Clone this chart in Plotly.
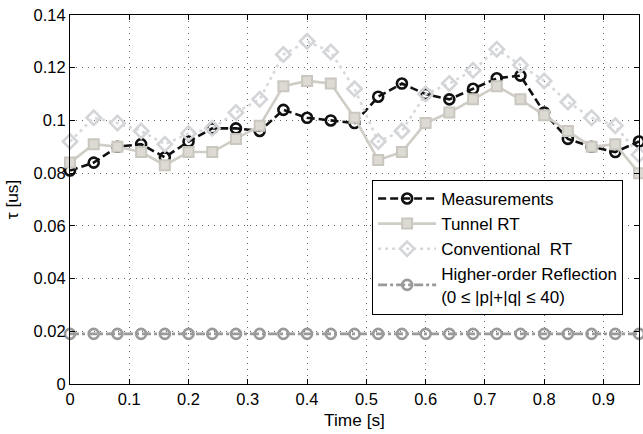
import plotly.graph_objects as go

time_s = [round(0.04 * i, 2) for i in range(25)]
measurements = [0.081, 0.084, 0.090, 0.091, 0.086, 0.092, 0.097, 0.097, 0.096, 0.104,
                0.101, 0.100, 0.099, 0.109, 0.114, 0.110, 0.108, 0.112, 0.116, 0.117,
                0.103, 0.093, 0.090, 0.088, 0.092]
tunnel_rt = [0.084, 0.091, 0.090, 0.088, 0.083, 0.088, 0.088, 0.093, 0.098, 0.113,
             0.115, 0.114, 0.101, 0.085, 0.088, 0.099, 0.103, 0.108, 0.113, 0.108,
             0.102, 0.096, 0.090, 0.091, 0.080]
conventional_rt = [0.092, 0.101, 0.099, 0.096, 0.091, 0.095, 0.097, 0.103, 0.108, 0.125,
                   0.130, 0.126, 0.112, 0.092, 0.096, 0.110, 0.114, 0.119, 0.127, 0.121,
                   0.115, 0.107, 0.101, 0.098, 0.087]
higher_order = [0.019] * 25

y_ticks = [0, 0.02, 0.04, 0.06, 0.08, 0.1, 0.12, 0.14]
y_tick_labels = ["0", "0.02", "0.04", "0.06", "0.08", "0.1", "0.12", "0.14"]
x_ticks = [0, 0.1, 0.2, 0.3, 0.4, 0.5, 0.6, 0.7, 0.8, 0.9]
x_tick_labels = ["0", "0.1", "0.2", "0.3", "0.4", "0.5", "0.6", "0.7", "0.8", "0.9"]

FONT = "Liberation Sans, Arial, sans-serif"

fig = go.Figure()
fig.add_trace(go.Scatter(
    x=time_s, y=measurements, name="Measurements", mode="lines+markers",
    line=dict(color="#111111", width=2.6, dash="8px,4px"),
    marker=dict(symbol="circle-open", size=10, color="#111111", line=dict(width=2.6)),
    cliponaxis=False,
))
fig.add_trace(go.Scatter(
    x=time_s, y=tunnel_rt, name="Tunnel RT", mode="lines+markers",
    line=dict(color="#cfcdc5", width=2.6),
    marker=dict(symbol="square", size=10, color="#dcdad3", line=dict(color="#c9c7bf", width=2)),
    cliponaxis=False,
))
fig.add_trace(go.Scatter(
    x=time_s, y=conventional_rt, name="Conventional  RT", mode="lines+markers",
    line=dict(color="#d6d8db", width=2.6, dash="3px,4px"),
    marker=dict(symbol="diamond-open", size=11, color="#d3d5d8", line=dict(width=2.6)),
    cliponaxis=False,
))
fig.add_trace(go.Scatter(
    x=time_s, y=higher_order, name="Higher-order Reflection<br>(0 ≤ |p|+|q| ≤ 40)",
    mode="lines+markers",
    line=dict(color="#9a9a9a", width=2.6, dash="dashdot"),
    marker=dict(symbol="circle-open", size=10, color="#9a9a9a", line=dict(width=2.6)),
    cliponaxis=False,
))

axis_common = dict(
    showline=True, linecolor="black", linewidth=1, mirror="ticks",
    ticks="inside", ticklen=5, tickcolor="black",
    showgrid=True, gridcolor="#666666", griddash="1px,5px", gridwidth=1,
    zeroline=False, automargin=False,
    tickfont=dict(family=FONT, size=16.5, color="black"),
)

fig.update_layout(
    template="none",
    width=643, height=434,
    margin=dict(l=70, r=4, t=15, b=50),
    paper_bgcolor="white", plot_bgcolor="white",
    font=dict(family=FONT, size=17, color="black"),
    showlegend=True,
    legend=dict(
        x=0.531, y=0.553, xanchor="left", yanchor="top",
        bgcolor="white", bordercolor="black", borderwidth=1,
        font=dict(family=FONT, size=17, color="black"),
        tracegroupgap=0, itemwidth=58,
    ),
    xaxis=dict(range=[0, 0.96], tickvals=x_ticks, ticktext=x_tick_labels,
               title=dict(text="Time [s]", standoff=7, font=dict(size=17.3)), **axis_common),
    yaxis=dict(range=[0, 0.14], tickvals=y_ticks, ticktext=y_tick_labels,
               title=dict(text="τ [us]", standoff=10, font=dict(size=17.3)), **axis_common),
)

fig.write_html(
    "out.html",
    config={"displayModeBar": False},
    post_script="document.body.style.margin='0';document.body.style.overflow='hidden';window.scrollTo(0,0);",
)
